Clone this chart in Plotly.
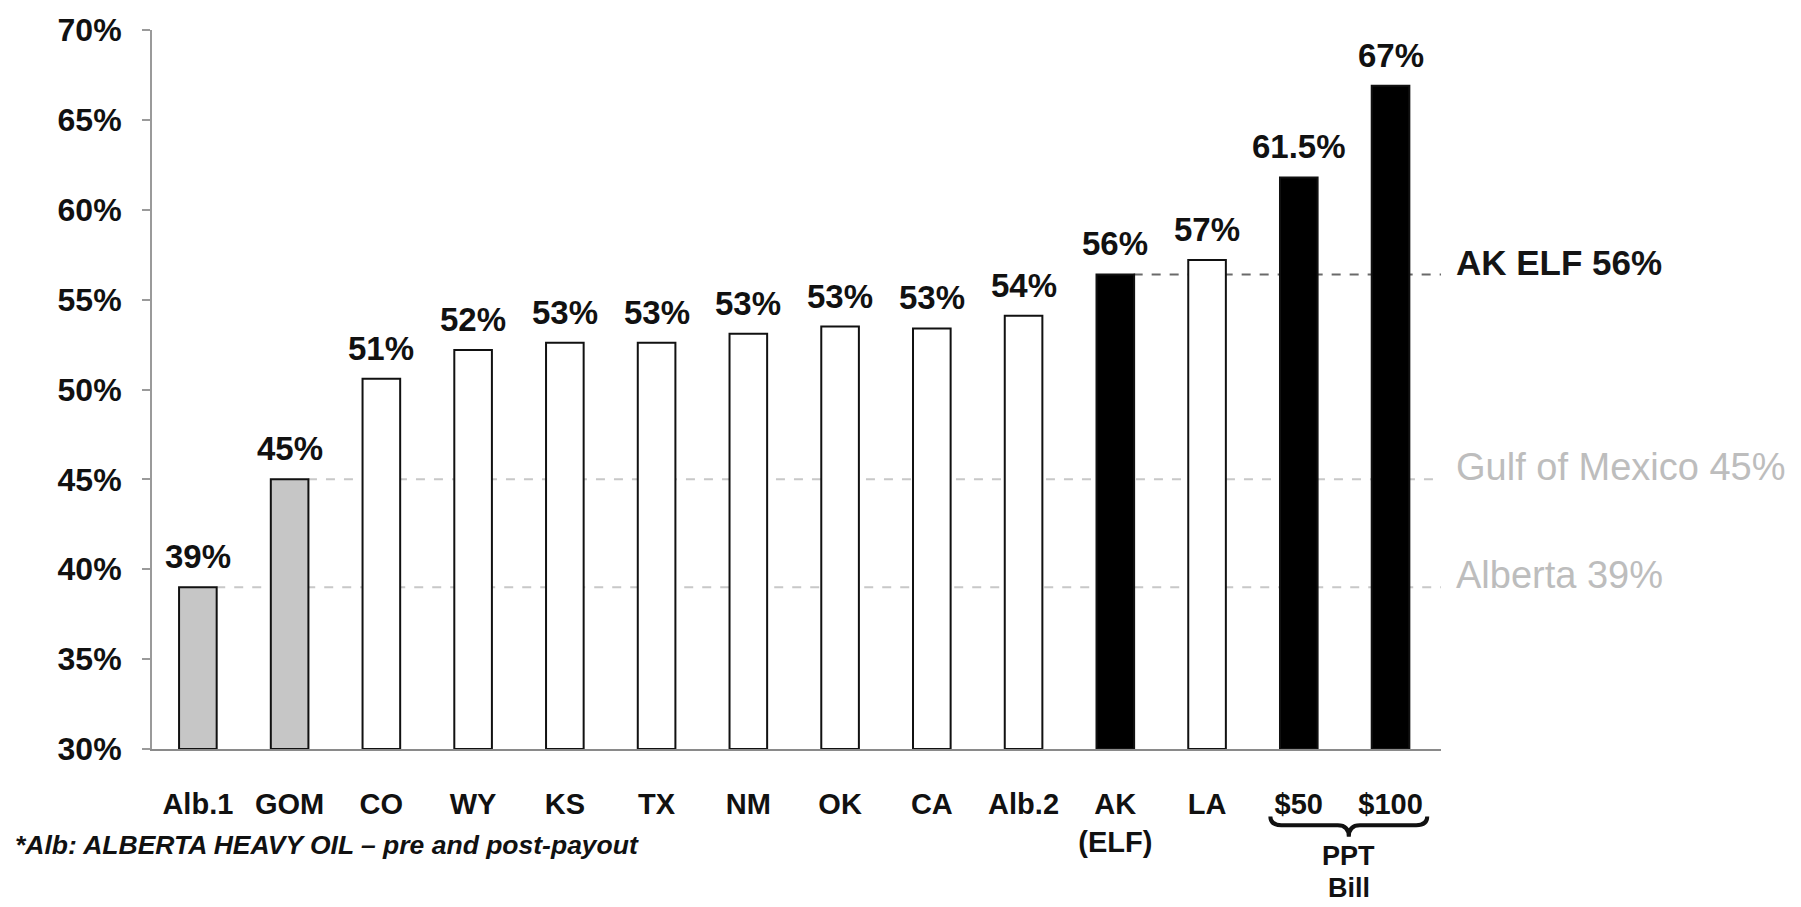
import plotly.graph_objects as go

# ---------------- data ----------------
categories = ["Alb.1", "GOM", "CO", "WY", "KS", "TX", "NM", "OK", "CA", "Alb.2",
              "AK<br>(ELF)", "LA", "$50", "$100"]
values = [39.0, 45.0, 50.6, 52.2, 52.6, 52.6, 53.1, 53.5, 53.4, 54.1, 56.4, 57.2, 61.8, 66.9]
value_labels = ["39%", "45%", "51%", "52%", "53%", "53%", "53%", "53%", "53%", "54%",
                "56%", "57%", "61.5%", "67%"]
groups = ["benchmark", "benchmark", "state", "state", "state", "state", "state", "state",
          "state", "state", "alaska", "state", "ppt", "ppt"]

ref_names = ["AK ELF 56%", "Gulf of Mexico 45%", "Alberta 39%"]
ref_values = [56.4, 45.0, 39.0]
ref_from_bar = [10, 1, 0]

y_ticks = [30, 35, 40, 45, 50, 55, 60, 65, 70]
footnote = "*Alb: ALBERTA HEAVY OIL \u2013 pre and post-payout"
bracket_lines = ["PPT", "Bill"]

# ---------------- styling ----------------
group_fill = {"benchmark": "#c6c6c6", "state": "#ffffff", "alaska": "#000000", "ppt": "#000000"}
SANS = "Liberation Sans, Arial, Helvetica, sans-serif"

x_idx = list(range(len(categories)))
x_end = 13.55

fig = go.Figure()
fig.add_trace(go.Bar(
    x=x_idx, y=[v - 30 for v in values], base=30,
    width=0.41,
    marker=dict(color=[group_fill[g] for g in groups],
                line=dict(color="#111111", width=2)),
    hoverinfo="skip", showlegend=False,
))

annotations = []
for i, (v, t) in enumerate(zip(values, value_labels)):
    annotations.append(dict(x=i, y=v, xref="x", yref="y", text="<b>%s</b>" % t,
                            showarrow=False, yanchor="bottom", xanchor="center", yshift=10,
                            font=dict(family=SANS, size=33, color="#111111")))

shapes = []
ref_styles = [
    dict(line_color="#6a6a6a", font_color="#151515", bold=True, size=35),
    dict(line_color="#c8c8c8", font_color="#bdbdbd", bold=False, size=38),
    dict(line_color="#c8c8c8", font_color="#bdbdbd", bold=False, size=38),
]
for name, val, b, st in zip(ref_names, ref_values, ref_from_bar, ref_styles):
    shapes.append(dict(type="line", xref="x", yref="y", x0=b + 0.2, x1=x_end, y0=val, y1=val,
                       layer="below", line=dict(color=st["line_color"], width=2, dash="dash")))
    txt = "<b>%s</b>" % name if st["bold"] else name
    annotations.append(dict(x=1.01, y=val, xref="paper", yref="y", text=txt, showarrow=False,
                            xanchor="left", yanchor="middle", yshift=12,
                            font=dict(family=SANS, size=st["size"], color=st["font_color"])))

# curly bracket under the PPT bars
x0, x1 = 11.69, 13.40
xc = (x0 + x1) / 2
yt, yb, yp = -0.094, -0.106, -0.122
d = 0.12
path = ("M %f,%f Q %f,%f %f,%f L %f,%f Q %f,%f %f,%f Q %f,%f %f,%f L %f,%f Q %f,%f %f,%f" % (
    x0, yt, x0, yb, x0 + d, yb, xc - d, yb, xc, yb, xc, yp, xc, yb, xc + d, yb, x1 - d, yb, x1, yb, x1, yt))
shapes.append(dict(type="path", xref="x", yref="paper", path=path,
                   line=dict(color="#111111", width=4)))
for txt, yy in zip(bracket_lines, [-0.1483, -0.1932]):
    annotations.append(dict(x=xc, y=yy, xref="x", yref="paper", text="<b>%s</b>" % txt,
                            showarrow=False, xanchor="center", yanchor="middle",
                            font=dict(family=SANS, size=27, color="#111111")))

annotations.append(dict(x=-0.108, y=-0.133, xref="paper", yref="paper",
                        text="<b><i>%s</i></b>" % footnote, showarrow=False,
                        xanchor="left", yanchor="middle",
                        font=dict(family=SANS, size=26.5, color="#111111")))

fig.update_layout(
    width=1801, height=907,
    margin=dict(l=152, r=360, t=19, b=158),
    paper_bgcolor="white", plot_bgcolor="white",
    showlegend=False,
    shapes=shapes, annotations=annotations,
    xaxis=dict(range=[-0.5, x_end], tickmode="array", tickvals=x_idx,
               ticktext=["<b>%s</b>" % c for c in categories],
               tickfont=dict(family=SANS, size=29, color="#111111"),
               showline=True, linecolor="#8a8a8a", linewidth=2, ticks="",
               showgrid=False, zeroline=False, ticklabelstandoff=28),
    yaxis=dict(range=[30, 70], tickmode="array", tickvals=y_ticks,
               ticktext=["<b>%d%%</b>" % t for t in y_ticks],
               tickfont=dict(family=SANS, size=32, color="#111111"),
               showline=True, linecolor="#9a9a9a", linewidth=2,
               ticks="outside", ticklen=8, tickcolor="#9a9a9a", tickwidth=2,
               showgrid=False, zeroline=False, ticklabelstandoff=14),
    bargap=0.59,
)

fig.write_html("out.html")
